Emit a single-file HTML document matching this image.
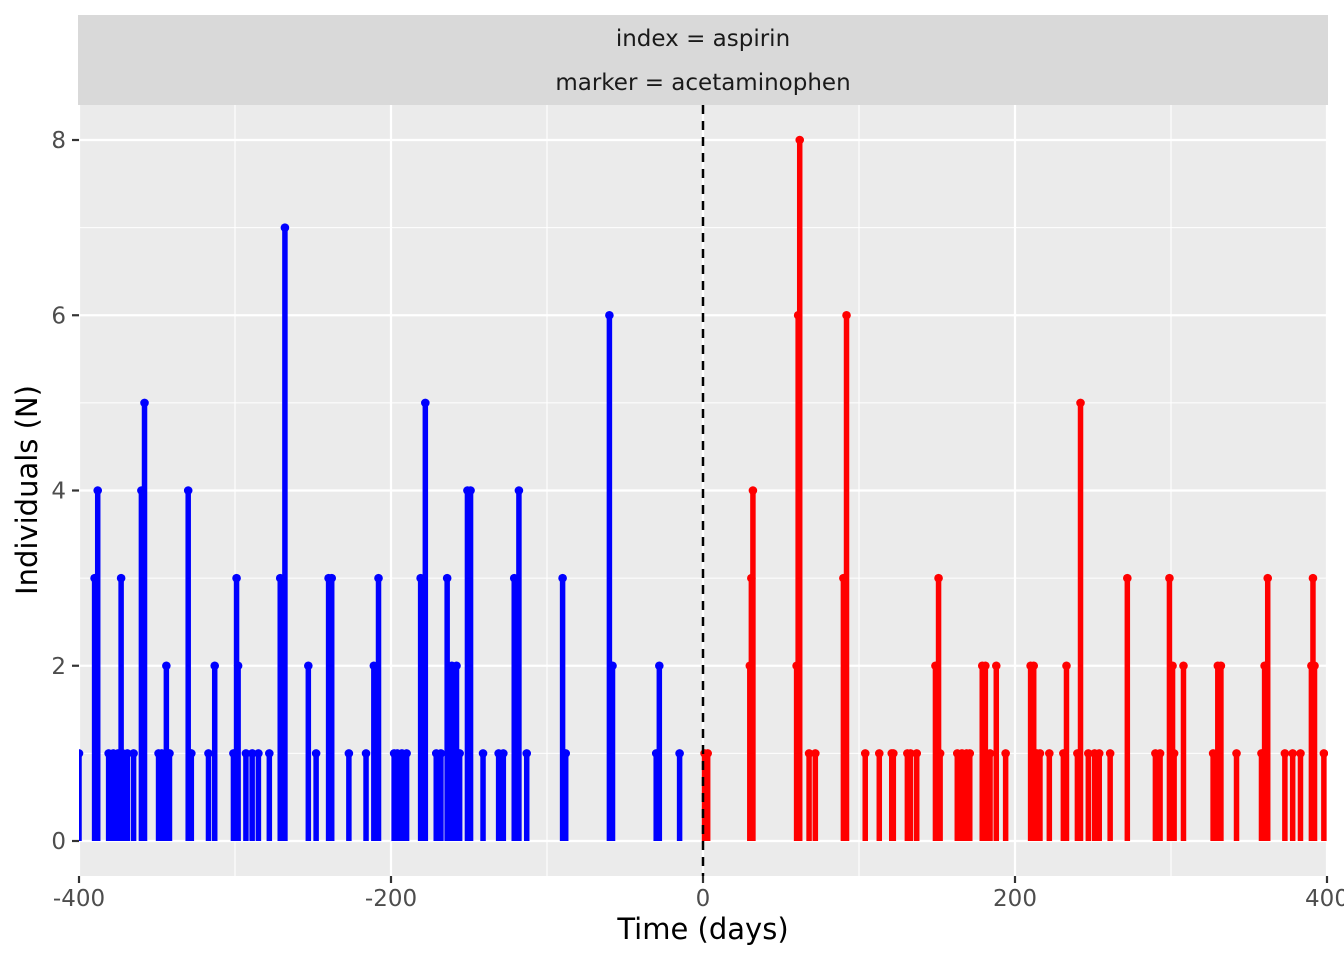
<!DOCTYPE html>
<html><head><meta charset="utf-8"><style>
body{margin:0;background:#fff}
svg text{font-family:"DejaVu Sans","Liberation Sans",sans-serif}
</style></head><body>
<svg id="chart" width="1344" height="960" xmlns="http://www.w3.org/2000/svg">
<defs><clipPath id="pc"><rect x="79" y="105" width="1249" height="771"/></clipPath></defs>
<rect x="78" y="15" width="1250" height="90" fill="#d9d9d9"/>
<text x="703" y="46" text-anchor="middle" font-size="23" fill="#1a1a1a">index = aspirin</text>
<text x="703" y="90" text-anchor="middle" font-size="23" fill="#1a1a1a">marker = acetaminophen</text>
<rect x="79" y="105" width="1249" height="771" fill="#ebebeb"/>
<g id="grid"></g>
<g id="marks" clip-path="url(#pc)"></g>
<g id="axes"></g>
<text x="703" y="939" text-anchor="middle" font-size="29" fill="#000">Time (days)</text>
<text transform="translate(37,490) rotate(-90)" text-anchor="middle" font-size="29" fill="#000">Individuals (N)</text>
</svg>
<script>
const blueDays=[-400,-390,-388,-381,-378,-375,-373,-372,-369,-365,-360,-358,-349,-347,-344,-342,-330,-328,-317,-313,-301,-299,-298,-293,-289,-285,-278,-271,-268,-253,-248,-240,-238,-227,-216,-211,-208,-198,-196,-193,-190,-181,-179,-178,-171,-168,-164,-161,-158,-156,-151,-149,-141,-131,-128,-121,-118,-113,-90,-88,-60,-58,-30,-28,-15];
const blueCounts=[1,3,4,1,1,1,3,1,1,1,4,5,1,1,2,1,4,1,1,2,1,3,2,1,1,1,1,3,7,2,1,3,3,1,1,2,3,1,1,1,1,3,2,5,1,1,3,2,2,1,4,4,1,1,1,3,4,1,3,1,6,2,1,2,1];
const redDays=[1,3,30,31,32,60,61,62,68,72,90,92,104,113,121,122,131,133,137,149,151,152,163,166,169,171,179,181,184,188,194,210,212,214,216,222,231,233,240,242,247,251,254,261,272,290,293,299,301,302,308,327,330,332,342,358,360,362,373,378,383,390,391,392,398];
const redCounts=[1,1,2,3,4,2,6,8,1,1,3,6,1,1,1,1,1,1,1,2,3,1,1,1,1,1,2,2,1,2,1,2,2,1,1,1,1,2,1,5,1,1,1,1,3,1,1,3,2,1,2,1,2,2,1,1,2,3,1,1,1,2,3,2,1];
const xTicks=[-400,-200,0,200,400];
const xMinor=[-300,-100,100,300];
const yTicks=[0,2,4,6,8];
const yMinor=[1,3,5,7];
const X=d=>703+d*1.56;
const Y=v=>841-v*87.625;
const NS="http://www.w3.org/2000/svg";
function mk(t,a,p){const e=document.createElementNS(NS,t);for(const k in a)e.setAttribute(k,a[k]);p.appendChild(e);return e;}
const grid=document.getElementById('grid'),marks=document.getElementById('marks'),axes=document.getElementById('axes');
yMinor.forEach(v=>{const l=mk('line',{x1:79,x2:1328,y1:Y(v),y2:Y(v),stroke:'#fff','stroke-width':1.1},grid);

});
xMinor.forEach(v=>{const l=mk('line',{x1:X(v),x2:X(v),y1:105,y2:876,stroke:'#fff','stroke-width':1.1},grid);

});
yTicks.forEach(v=>{const l=mk('line',{x1:79,x2:1328,y1:Y(v),y2:Y(v),stroke:'#fff','stroke-width':2.2},grid);


const t=mk('line',{x1:72,x2:79,y1:Y(v),y2:Y(v),stroke:'#333','stroke-width':2.2},axes);


const tx=mk('text',{x:66,y:Y(v)+8,'text-anchor':'end','font-size':23,fill:'#4d4d4d'},axes);tx.textContent=v;

});
xTicks.forEach(v=>{const l=mk('line',{x1:X(v),x2:X(v),y1:105,y2:876,stroke:'#fff','stroke-width':2.2},grid);


const t=mk('line',{x1:X(v),x2:X(v),y1:876,y2:883,stroke:'#333','stroke-width':2.2},axes);


const tx=mk('text',{x:X(v),y:906,'text-anchor':'middle','font-size':23,fill:'#4d4d4d'},axes);tx.textContent=v;

});
function series(days,counts,col,name){
 days.forEach((d,i)=>{const s=mk('line',{x1:X(d),x2:X(d),y1:Y(0),y2:Y(counts[i]),stroke:col,'stroke-width':5.5},marks);
 
 });
 days.forEach((d,i)=>{const c=mk('circle',{cx:X(d),cy:Y(counts[i]),r:4.3,fill:col},marks);
 
 });
}
series(blueDays,blueCounts,'#0000ff','before-index');
series(redDays,redCounts,'#ff0000','after-index');
const z=mk('line',{x1:X(0),x2:X(0),y1:105,y2:876,stroke:'#000','stroke-width':2.5,'stroke-dasharray':'9,7'},marks);


</script>
</body></html>
